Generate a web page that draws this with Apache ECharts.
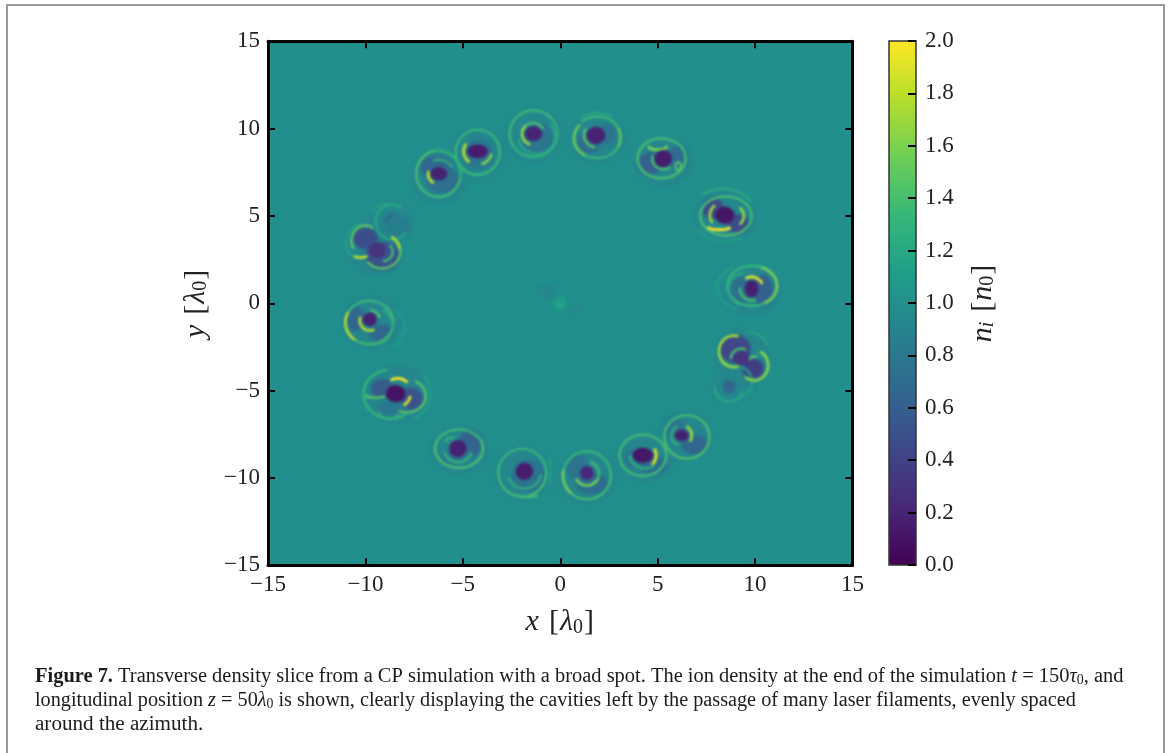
<!DOCTYPE html>
<html><head><meta charset="utf-8">
<style>html,body{margin:0;padding:0;background:#fff}#c{width:1168px;height:753px}</style>
<script src="https://cdn.jsdelivr.net/npm/echarts@6/dist/echarts.min.js"></script>
</head><body><div id="c"></div>
<script>
const viridisStops=['#440154','#482878','#3e4989','#31688e','#26828e','#1f9e89','#35b779','#6ece58','#b5de2b','#fde725'];
// [n, x, y, rx, ry] in lambda_0
const halos=[
[.94,-1.37,9.6,1.5,1.55],[.94,-4.24,8.6,1.4,1.5],[.94,-6.2,7.2,1.45,1.55],[.95,-8.6,4.7,1.1,1.2],[.93,-9.6,3.2,1.4,1.6],
[.93,-9.7,-1.1,1.55,1.5],[.93,-8.4,-5.2,1.65,1.65],[.93,-5.2,-8.4,1.5,1.35],[.93,-1.9,-9.7,1.5,1.55],[.93,1.4,-9.9,1.5,1.55],
[.93,4.3,-8.8,1.45,1.4],[.93,6.4,-7.6,1.4,1.45],[.95,8.7,-4.8,1,1.05],[.93,9.4,-3.2,1.35,1.7],[.93,9.8,.7,1.55,1.4],
[.93,8.5,5,1.6,1.4],[.93,5.3,8.1,1.5,1.4],[.93,1.9,9.4,1.45,1.35],
[.94,-.65,.75,.5,.4],[.96,.75,-.4,.4,.3]];
const lobes=[
[.78,-1.2,9.45,.8,.85],[.78,-4.2,8.55,.75,.8],[.66,-6.35,7.8,.8,.6],[.74,-6,7,.85,.65],[.7,-8.62,4.75,.34,.38],[.86,-8.3,4.4,.6,.6],
[.48,-9.99,3.7,.6,.57],[.52,-9.1,2.7,.85,.8],[.66,-10.5,-.9,.45,.65],[.66,-9.2,-1.7,.6,.45],[.58,-9.13,-4.88,.55,.5],[.52,-7.68,-5.46,.6,.6],
[.8,-8.6,-6,.7,.4],[.64,-4.65,-8.05,.55,.75],[.8,-5.3,-8.8,.8,.4],[.76,-1.6,-9.9,.85,.9],[.7,1.6,-10.3,.8,.55],[.76,.9,-9.4,.5,.7],
[.72,4.8,-9.3,.7,.45],[.8,3.7,-8.9,.4,.5],[.66,6.9,-8.1,.65,.5],[.76,5.9,-7.2,.45,.5],[.66,8.67,-4.79,.31,.34],[.44,8.97,-2.6,.77,.76],
[.38,9.9,-3.74,.51,.53],[.62,10.4,.75,.45,.85],[.74,9.2,.7,.5,.8],[.46,7.85,5.42,.51,.57],[.46,9.13,4.56,.52,.5],[.62,4.61,8,.6,.57],
[.7,6,8.35,.45,.6],[.72,1.45,9.2,.55,.6],[.76,2.4,9.7,.45,.55]];
const cavities=[
[.2,-1.37,9.71,.42,.4],[.14,-4.24,8.7,.5,.37],[.18,-6.23,7.42,.41,.35],[.3,-9.39,3.03,.42,.41],[.18,-9.77,-.92,.33,.37],
[.1,-8.45,-5.17,.47,.47],[.18,-5.26,-8.32,.42,.47],[.16,-1.84,-9.62,.42,.47],[.22,1.37,-9.71,.33,.37],[.12,4.24,-8.7,.5,.41],
[.18,6.23,-7.56,.33,.3],[.3,9.31,-3.17,.37,.37],[.18,9.82,.84,.33,.47],[.12,8.45,5.04,.47,.47],[.16,5.29,8.28,.42,.47],[.19,1.84,9.62,.45,.47],
[1.13,0,0,.3,.32]];
// [n, x, y, rx, ry, fromDeg, toDeg]
const arcs=[
// top pair
[1.36,-1.37,9.71,1.23,1.33,40,210],[1.3,-1.37,9.71,1.23,1.33,210,400],[1.2,-1.2,9.55,.95,1,190,400],[1.65,-1.4,9.7,.56,.62,130,250],[1.42,-1.4,9.7,.56,.62,30,130],
[1.32,-4.24,8.65,1.13,1.29,20,160],[1.36,-4.24,8.65,1.13,1.29,160,380],[1.8,-4.24,8.7,.72,.76,150,230],[1.6,-4.24,8.7,.72,.76,290,345],
[1.42,-6.25,7.42,1.14,1.33,100,200],[1.38,-6.25,7.42,1.14,1.33,200,350],[1.3,-6.25,7.42,1.14,1.33,-10,100],[1.8,-6.23,7.42,.55,.61,170,235],[1.25,-6.23,7.42,.75,.8,30,110],
// left upper
[1.2,-8.62,4.75,.85,.9,60,200],[1.16,-8.62,4.6,.85,.95,200,320],[1.12,-8.9,5.2,.7,.5,30,170],
[1.48,-10,3.6,.72,.86,60,210],[1.48,-9.15,2.95,.94,.95,-140,10],[1.75,-9.15,3,.92,.95,10,55],[1.8,-10.25,2.72,.32,.1,200,340],[1.38,-9.15,2.95,.55,.55,-80,40],[1.14,-10,3.5,1,1.1,110,230],
[1.38,-9.8,-1.1,1.23,1.24,230,400],[1.75,-9.8,-1.1,1.23,1.24,150,230],[1.34,-9.8,-1.1,1.23,1.24,40,150],[1.75,-9.77,-.98,.52,.58,165,290],[1.45,-9.77,-.98,.52,.58,20,80],[1.22,-9.6,-1.3,1.0,1.1,-70,60],[1.1,-9.3,-1.4,1.3,1.3,-50,50],
// lower left
[2.0,-8.35,-5.1,.72,.8,50,115],[1.9,-8.4,-5.15,.72,.8,-55,-15],[1.48,-7.9,-5.3,1,.95,-110,60],[1.33,-8.7,-5.2,1.4,1.4,100,250],[1.33,-8.7,-5.2,1.4,1.4,250,300],[1.5,-9.5,-5.3,.45,.1,170,350],[1.3,-8.8,-6.3,.5,.3,180,340],[1.12,-8.3,-5.2,1.65,1.6,-60,40],
[1.36,-5.2,-8.32,1.23,1.1,20,160],[1.42,-5.2,-8.32,1.23,1.1,160,380],[1.32,-5.25,-8.32,.72,.78,200,340],[1.28,-5.6,-8,.3,.3,60,160],
[1.33,-1.95,-9.7,1.23,1.37,0,170],[1.38,-1.95,-9.7,1.23,1.37,170,360],[1.26,-1.84,-9.7,.85,.9,200,350],[1.36,-1.7,-11,.5,.1,180,360],[1.12,-.6,-9.6,.1,.7,-90,90],
[1.55,1.37,-9.75,.62,.68,210,335],[1.38,1.37,-9.75,.62,.68,-25,70],[1.33,1.37,-9.85,1.23,1.37,0,170],[1.55,1.37,-9.85,1.23,1.37,170,230],[1.38,1.37,-9.85,1.23,1.37,230,360],
// lower right
[1.9,4.24,-8.7,.68,.76,-40,25],[1.38,4.24,-8.7,1.2,1.18,30,170],[1.38,4.24,-8.7,1.2,1.18,170,390],[1.26,4.35,-8.6,.8,.85,190,300],
[1.7,6.23,-7.56,.52,.58,-30,55],[1.28,6.23,-7.56,.52,.58,120,250],[1.38,6.5,-7.65,1.16,1.24,40,190],[1.42,6.5,-7.65,1.16,1.24,-170,40],
[1.2,8.67,-4.79,.75,.85,180,340],[1.12,8.8,-4.5,1.05,1,-70,70],
// right
[1.68,8.9,-2.75,.75,.9,75,230],[1.68,8.9,-2.75,.75,.9,230,285],[1.42,9.31,-3.15,.55,.55,70,180],[1.62,9.95,-3.55,.72,.86,-125,60],[1.48,9.95,-3.4,.3,.35,70,150],[1.16,9.6,-3,1.2,1.35,30,90],
[1.9,9.82,.84,.6,.67,30,115],[1.42,9.82,.84,.6,.67,180,285],[1.58,9.85,1,1.28,1.14,-60,70],[1.33,9.85,1,1.28,1.14,70,300],[1.2,9.5,.8,.85,.95,100,250],[1.12,9.6,.9,1.55,1.3,120,250],
[2.0,8.15,4.35,.55,.14,190,350],[1.7,8.3,5.05,.62,.68,130,215],[1.65,8.7,5,.72,.68,-40,40],[1.38,8.5,5,1.32,1.12,-40,120],[1.42,8.5,5,1.32,1.12,120,320],[1.22,8.35,5.2,1.6,1.35,30,130],[1.12,8.5,4.9,1.6,1.35,210,300],
[1.38,5.2,8.3,1.23,1.14,-10,130],[1.42,5.2,8.3,1.23,1.14,130,350],[1.6,5,8.95,.45,.15,180,360],[1.42,5.3,8.3,.58,.62,170,300],[1.44,6.05,7.85,.14,.22,0,360],
[1.36,1.9,9.55,1.2,1.14,0,130],[1.52,1.9,9.45,1.2,1.14,140,240],[1.33,1.9,9.45,1.2,1.14,240,370],[1.48,1.84,9.62,.62,.68,150,260],[1.5,2.95,9.5,.12,.5,-80,80],[1.18,1.9,10.1,1.1,.8,50,140]
];
const chart=echarts.init(document.getElementById('c'),null,{renderer:'canvas'});
const SERIF='"Liberation Serif",serif';
function curve(api,closed){
  const x=api.value(1),y=api.value(2),rx=api.value(3),ry=api.value(4);
  const a0=closed?0:api.value(5),a1=closed?360:api.value(6);
  const steps=Math.max(6,Math.ceil(Math.abs(a1-a0)/8)),pts=[];
  for(let i=0;i<=steps;i++){const a=(a0+(a1-a0)*i/steps)*Math.PI/180;
    pts.push(api.coord([x+rx*Math.cos(a),y+ry*Math.sin(a)]));}
  return pts;
}
const fillItem=(blur)=>(p,api)=>{const c=api.visual('color');
  return {type:'polygon',shape:{points:curve(api,true)},style:{fill:c,shadowBlur:blur,shadowColor:c}};};
const arcItem=(p,api)=>{const c=api.visual('color'),n=api.value(0);
  return {type:'polyline',shape:{points:curve(api,false)},
    style:{fill:null,stroke:c,lineWidth:n>1.5?2.8:2.3,lineCap:'round'}};};
const enc={x:1,y:2};
const mainAxis=(pos,labels)=>({type:'value',gridIndex:0,position:pos,min:-15,max:15,interval:5,z:5,
  axisLine:{show:true,onZero:false,lineStyle:{color:'#000',width:3}},
  axisTick:{show:true,inside:true,length:7,lineStyle:{color:'#000',width:2}},splitLine:{show:false},
  axisLabel:{show:labels,margin:8,color:'#222',fontFamily:SERIF,fontSize:23,formatter:v=>v<0?'\u2212'+(-v):''+v,showMinLabel:true,showMaxLabel:true}});
const richName={i:{fontFamily:SERIF,fontStyle:'italic',fontSize:30,color:'#222'},r:{fontFamily:SERIF,fontSize:30,color:'#222',padding:[0,1,0,1]},
  g:{fontFamily:SERIF,fontSize:30,color:'#222',width:9},
  s:{fontFamily:SERIF,fontSize:20,color:'#222',padding:[10,0,0,0]},si:{fontFamily:SERIF,fontStyle:'italic',fontSize:20,color:'#222',padding:[10,0,0,0]}};
const seriesBase={type:'custom',coordinateSystem:'cartesian2d',xAxisIndex:0,yAxisIndex:0,clip:true,encode:enc,silent:true,zlevel:1};
chart.setOption({
  animation:false,backgroundColor:'#fff',
  grid:[{left:268,top:41.3,width:584.5,height:524,show:true,backgroundColor:'#21908c',borderWidth:0,z:0},
        {left:889,top:41,width:27,height:524,show:true,backgroundColor:'transparent',borderColor:'#333',borderWidth:1.5,z:10}],
  xAxis:[
    Object.assign(mainAxis('bottom',true),{name:'{i|x}{g|}{r|[}{i|\u03bb}{s|0}{r|]}',nameLocation:'middle',nameGap:42,nameTextStyle:{rich:richName}}),
    mainAxis('top',false),
    {type:'value',gridIndex:1,min:0,max:1,show:false}],
  yAxis:[
    Object.assign(mainAxis('left',true),{name:'{i|y}{g|}{r|[}{i|\u03bb}{s|0}{r|]}',nameLocation:'middle',nameGap:57,nameRotate:90,nameTextStyle:{rich:richName}}),
    mainAxis('right',false),
    {type:'value',gridIndex:1,position:'right',min:0,max:2,interval:.2,z:12,
     axisLine:{show:false,onZero:false},splitLine:{show:false},
     axisTick:{show:true,inside:true,length:8,lineStyle:{color:'#000',width:2}},
     axisLabel:{margin:9,color:'#222',fontFamily:SERIF,fontSize:23,formatter:v=>v.toFixed(1)},
     name:'{i|n}{si|i}{g|}{r|[}{i|n}{s|0}{r|]}',nameLocation:'middle',nameGap:52,nameRotate:90,nameTextStyle:{rich:richName}}],
  visualMap:{type:'continuous',min:0,max:2,dimension:0,seriesIndex:[0,1,2,3],left:889,top:41,itemWidth:27,itemHeight:524,padding:0,
    calculable:false,hoverLink:false,showLabel:false,text:null,inRange:{color:viridisStops}},
  series:[
    Object.assign({},seriesBase,{data:halos,renderItem:fillItem(8)}),
    Object.assign({},seriesBase,{data:lobes,renderItem:fillItem(4)}),
    Object.assign({},seriesBase,{data:arcs,renderItem:arcItem}),
    Object.assign({},seriesBase,{data:cavities,renderItem:fillItem(2)})
  ],
  graphic:[
    {type:'polyline',silent:true,shape:{points:[[7,760],[7,5],[1164,5],[1164,760]]},style:{fill:null,stroke:'#999',lineWidth:2}},
    ...[
      {y:677,sx:.997,t:'{b|Figure 7.} Transverse density slice from a CP simulation with a broad spot. The ion density at the end of the simulation {i|t} = 150{i|\u03c4}{s|0}, and'},
      {y:701,sx:.987,t:'longitudinal position {i|z} = 50{i|\u03bb}{s|0} is shown, clearly displaying the cavities left by the passage of many laser filaments, evenly spaced'},
      {y:725,sx:1.03,t:'around the azimuth.'}
    ].map(l=>({type:'text',silent:true,x:35,y:l.y,scaleX:l.sx,style:{text:l.t,fontFamily:SERIF,fontSize:20.5,fill:'#1c1c1c',verticalAlign:'middle',align:'left',
      rich:{b:{fontFamily:SERIF,fontWeight:'bold',fontSize:20.5,fill:'#1c1c1c'},i:{fontFamily:SERIF,fontStyle:'italic',fontSize:20.5,fill:'#1c1c1c'},s:{fontFamily:SERIF,fontSize:14,fill:'#1c1c1c',padding:[7,0,0,0]}}}}))
  ]
});
const layers=document.querySelectorAll('#c canvas');
if(layers.length>1)layers[layers.length-1].style.filter='blur(0.9px)';
</script></body></html>
